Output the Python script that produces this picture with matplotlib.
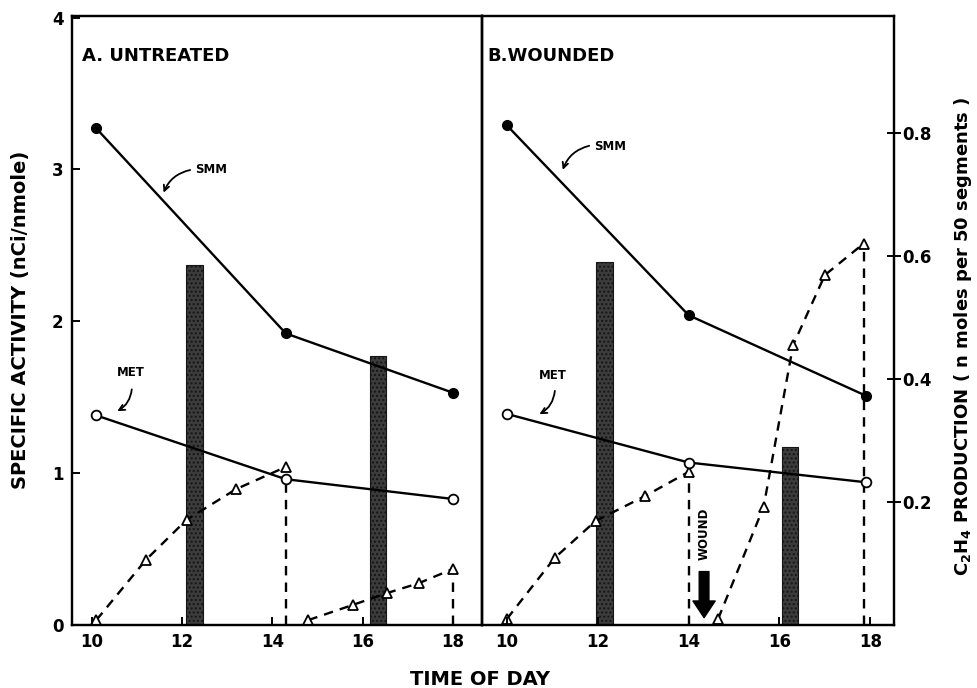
import numpy as np
import matplotlib
matplotlib.use('Agg')
import matplotlib.pyplot as plt

plt.rcParams['font.family'] = 'DejaVu Sans'

# Panel A: untreated
times_a = [10.1, 14.3, 18.0]
smm_a = [3.27, 1.92, 1.53]
met_a = [1.38, 0.96, 0.83]
eth_a1_t = [10.1, 11.2, 12.1, 13.2, 14.3]
eth_a1 = [0.008, 0.106, 0.171, 0.221, 0.257]
eth_a2_t = [14.8, 15.8, 16.55, 17.25, 18.0]
eth_a2 = [0.008, 0.033, 0.052, 0.068, 0.091]
bars_a_t = [12.27, 16.34]
bars_a = [0.585, 0.437]

# Panel B: wounded
times_b = [10.0, 14.0, 17.9]
smm_b = [3.29, 2.04, 1.51]
met_b = [1.39, 1.07, 0.94]
eth_b1_t = [10.0, 11.05, 11.95, 13.05, 14.0]
eth_b1 = [0.01, 0.109, 0.169, 0.21, 0.249]
eth_b2_t = [14.65, 15.65, 16.3, 17.0, 17.85]
eth_b2 = [0.01, 0.192, 0.455, 0.569, 0.62]
bars_b_t = [12.14, 16.23]
bars_b = [0.59, 0.29]
wound_t = 14.34

x_ticks = [10, 12, 14, 16, 18]
y_ticks = [0, 1, 2, 3, 4]
eth_ticks = [0.2, 0.4, 0.6, 0.8]

fig = plt.figure(figsize=(9.77, 6.88), dpi=100)
ax_a = fig.add_axes([0.0737, 0.0916, 0.4197, 0.885])
ax_b = fig.add_axes([0.4933, 0.0916, 0.4217, 0.885], sharey=ax_a)
tw_a = ax_a.twinx()
tw_b = ax_b.twinx()

SPINE = 1.6
TICKFONT = dict(fontsize=12, fontweight='bold')
panels = [
    (ax_a, tw_a, times_a, smm_a, met_a, eth_a1_t, eth_a1, eth_a2_t, eth_a2,
     bars_a_t, bars_a, (9.56, 18.65), "A. UNTREATED", 0.024),
    (ax_b, tw_b, times_b, smm_b, met_b, eth_b1_t, eth_b1, eth_b2_t, eth_b2,
     bars_b_t, bars_b, (9.45, 18.52), "B.WOUNDED", 0.012),
]

for ax, tw, t, smm, met, e1t, e1, e2t, e2, bt, bv, xl, title, tx in panels:
    ax.set_xlim(*xl)
    ax.set_ylim(0, 4.01)
    tw.set_ylim(0, 0.99)
    tw.set_zorder(ax.get_zorder() - 1)
    ax.patch.set_visible(False)

    tw.bar(bt, bv, width=0.37, color='#3c3c3c', edgecolor='#151515',
           hatch='....', linewidth=0.8, zorder=1)

    # ethylene (triangles, dashed)
    for et, ev in [(e1t, e1), (e2t, e2)]:
        tw.plot(et, ev, ls=(0, (4, 3)), color='black', lw=1.7, marker='^',
                ms=7, mfc='white', mec='black', mew=1.3, clip_on=False, zorder=3)
        tw.vlines(et[-1], 0, ev[-1] - 0.012, colors='black', linestyles=(0, (4, 3)),
                  lw=1.7, zorder=2)

    ax.plot(t, smm, color='black', lw=1.7, marker='o', ms=7, mfc='black',
            mec='black', zorder=4)
    ax.plot(t, met, color='black', lw=1.7, marker='o', ms=7, mfc='white',
            mec='black', mew=1.3, zorder=4)

    ax.text(tx, 0.934, title, transform=ax.transAxes, fontsize=13,
            fontweight='bold', va='center', ha='left')

    ax.set_xticks(x_ticks)
    ax.set_xticklabels([str(v) for v in x_ticks], **TICKFONT)
    ax.tick_params(axis='x', direction='in', length=6, width=1.4, pad=6)
    for sp in ax.spines.values():
        sp.set_linewidth(SPINE)
    for sp in tw.spines.values():
        sp.set_linewidth(SPINE)

ax_a.set_yticks(y_ticks)
ax_a.set_yticklabels([str(v) for v in y_ticks], **TICKFONT)
ax_a.tick_params(axis='y', direction='in', length=6, width=1.4, pad=6)
ax_b.tick_params(axis='y', left=False, labelleft=False)
tw_a.set_yticks([])
tw_b.set_yticks(eth_ticks)
tw_b.set_yticklabels(['0.2', '0.4', '0.6', '0.8'], **TICKFONT)
tw_b.tick_params(axis='y', direction='inout', length=10, width=1.4, pad=1)

# curved annotation arrows
arrow_kw = dict(arrowstyle='->', color='black', lw=1.3,
                connectionstyle='arc3,rad=0.3')
ax_a.annotate('', xy=(11.57, 2.83), xytext=(12.24, 3.0), arrowprops=arrow_kw)
ax_a.text(12.3, 3.0, 'SMM', fontsize=8.5, fontweight='bold', va='center')
ax_a.annotate('', xy=(10.51, 1.40), xytext=(10.89, 1.57),
              arrowprops=dict(arrow_kw, connectionstyle='arc3,rad=-0.3'))
ax_a.text(10.86, 1.66, 'MET', fontsize=8.5, fontweight='bold', va='center',
          ha='center')

ax_b.annotate('', xy=(11.21, 2.98), xytext=(11.87, 3.16), arrowprops=arrow_kw)
ax_b.text(11.92, 3.15, 'SMM', fontsize=8.5, fontweight='bold', va='center')
ax_b.annotate('', xy=(10.66, 1.38), xytext=(11.06, 1.56),
              arrowprops=dict(arrow_kw, connectionstyle='arc3,rad=-0.3'))
ax_b.text(11.01, 1.64, 'MET', fontsize=8.5, fontweight='bold', va='center',
          ha='center')

# wound marker
ax_b.text(wound_t, 0.6, 'WOUND', rotation=90, fontsize=8.5, fontweight='bold',
          ha='center', va='center')
ax_b.annotate('', xy=(wound_t, 0.03), xytext=(wound_t, 0.37),
              arrowprops=dict(arrowstyle='simple,head_width=0.8,head_length=0.6,tail_width=0.35',
                              color='black', mutation_scale=20))

fig.text(0.491, 0.012, 'TIME OF DAY', fontsize=14, fontweight='bold',
         ha='center', va='center')
fig.text(0.021, 0.535, 'SPECIFIC ACTIVITY (nCi/nmole)', fontsize=14,
         fontweight='bold', rotation=90, ha='center', va='center')
fig.text(0.986, 0.512, r'C$_\mathbf{2}$H$_\mathbf{4}$ PRODUCTION ( n moles per 50 segments )',
         fontsize=13, fontweight='bold', rotation=90, ha='center', va='center')

fig.savefig('out.png', dpi=100)
